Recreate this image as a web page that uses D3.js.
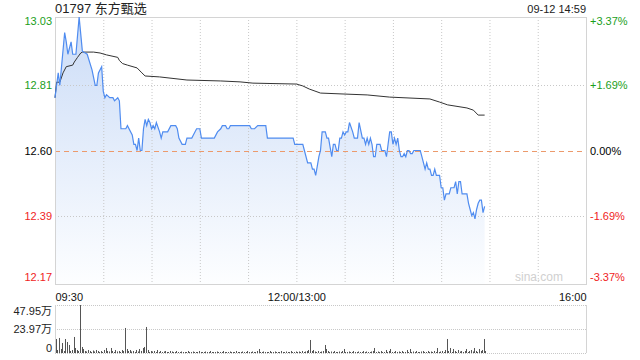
<!DOCTYPE html>
<html>
<head>
<meta charset="utf-8">
<script src="https://cdn.jsdelivr.net/npm/d3@7"></script>
<style>
    body { margin: 0; background: #fff; }
    svg text { font-family: "Liberation Sans", Arial, "Noto Sans CJK SC", sans-serif; }
</style>
</head>
<body>
<div id="chart"></div>
<script>
// Header
const stockTitle = "01797 东方甄选"
const stockTime = "09-12 14:59"

// Axis labels
const priceTicks = [13.03, 12.81, 12.60, 12.39, 12.17]
const pctTicks = ["+3.37%", "+1.69%", "0.00%", "-1.69%", "-3.37%"]
const timeTicks = [0, 150, 330]
const timeLabels = ["09:30", "12:00/13:00", "16:00"]
const volTicks = [47.95, 23.97, 0]
const volLabels = ["47.95万", "23.97万", "0"]
const prevClose = 12.60

// Price line (minute from 09:30, trading minutes only)
const priceMinutes = [0, 2, 3, 6, 7, 8, 10, 11, 13, 15, 17, 20, 23, 25, 26, 27, 29, 30, 31, 32, 34, 36, 37, 39, 40,
    41, 42, 44, 45, 48, 49, 50, 51, 52, 53, 54, 55, 56, 57, 58, 59, 60, 61, 62, 63, 65, 66, 67, 70, 72, 75, 76, 77,
    79, 81, 82, 85, 86, 88, 90, 91, 99, 101, 103, 104, 106, 107, 108, 109, 121, 122, 124, 126, 131, 132, 148, 149,
    154, 155, 157, 159, 160, 161, 162, 163, 164, 165, 166, 167, 168, 169, 170, 172, 173, 174, 175, 176, 177, 178,
    179, 180, 181, 182, 183, 185, 186, 188, 189, 191, 192, 193, 194, 195, 196, 197, 198, 199, 200, 202, 203, 204,
    205, 206, 207, 208, 209, 210, 211, 212, 213, 214, 215, 216, 217, 218, 219, 220, 221, 222, 223, 225, 226, 227,
    228, 229, 230, 231, 232, 233, 234, 235, 236, 237, 239, 240, 241, 242, 243, 245, 246, 248, 249, 250, 251, 252,
    253, 256, 257, 258, 259, 260, 261, 262, 263, 264, 265, 266, 267]
const prices = [12.77, 12.85, 12.81, 12.98, 12.95, 12.91, 12.95, 12.91, 12.91, 13.03, 12.92, 12.91, 12.86, 12.81,
    12.81, 12.85, 12.87, 12.79, 12.77, 12.78, 12.77, 12.77, 12.76, 12.77, 12.76,
    12.67, 12.67, 12.67, 12.68, 12.65, 12.62, 12.62, 12.60, 12.64, 12.60, 12.60, 12.67, 12.70, 12.68, 12.70, 12.69,
    12.67, 12.68, 12.67, 12.69, 12.66, 12.64, 12.66, 12.66, 12.68, 12.68, 12.67, 12.64,
    12.62, 12.62, 12.64, 12.64, 12.65, 12.67, 12.67, 12.64, 12.64, 12.66, 12.67, 12.68, 12.68, 12.67, 12.67, 12.68,
    12.68, 12.67, 12.67, 12.68, 12.68, 12.64, 12.64, 12.62,
    12.62, 12.60, 12.56, 12.56, 12.54, 12.54, 12.52, 12.55, 12.58, 12.60, 12.66, 12.66, 12.66, 12.64, 12.64, 12.58,
    12.62, 12.62, 12.60, 12.60, 12.64, 12.64,
    12.66, 12.65, 12.66, 12.66, 12.69, 12.66, 12.64, 12.64, 12.69, 12.64, 12.64, 12.62, 12.64, 12.62, 12.64, 12.62,
    12.58, 12.58, 12.62, 12.62, 12.60, 12.60,
    12.60, 12.58, 12.62, 12.66, 12.66, 12.62, 12.64, 12.62, 12.64, 12.60, 12.58, 12.58, 12.59, 12.58, 12.60, 12.60,
    12.59, 12.59, 12.60, 12.60, 12.60, 12.60,
    12.58, 12.56, 12.54, 12.56, 12.54, 12.54, 12.52, 12.52, 12.54, 12.52, 12.52, 12.48, 12.48, 12.44, 12.46, 12.46,
    12.48, 12.48, 12.50, 12.46, 12.50, 12.50,
    12.46, 12.46, 12.43, 12.41, 12.39, 12.40, 12.38, 12.41, 12.43, 12.44, 12.44, 12.40, 12.42]

// Average price line
const avgMinutes = [0, 1, 3, 5, 7, 11, 12, 14, 16, 17, 24, 28, 32, 39, 40, 42, 45, 51, 54, 56, 65, 82, 103, 115,
    123, 150, 154, 158, 165, 179, 194, 208, 233, 239, 244, 256, 260, 263, 267]
const avgPrices = [12.77, 12.82, 12.82, 12.85, 12.87, 12.875, 12.885, 12.90, 12.914, 12.917, 12.917, 12.914,
    12.908, 12.90, 12.89, 12.88, 12.875, 12.866, 12.85, 12.84, 12.837, 12.827, 12.824, 12.821, 12.817, 12.814,
    12.808, 12.798, 12.785, 12.782, 12.779, 12.772, 12.766, 12.756, 12.747, 12.737, 12.730, 12.714, 12.714]

// Volume per minute (万 shares)
const volumes = [
    14, 3, 15, 4, 10, 2, 14, 11, 8, 2,
    3, 16, 5, 3, 2, 47.95, 6, 4, 2, 1.5,
    3, 2, 1, 2.5, 1.5, 3, 2, 1, 2, 1,
    3, 5, 2, 1.5, 5, 2, 1, 3, 1.5, 2,
    1, 3, 2, 25, 4, 2, 3, 1.5, 2, 1,
    3, 1.5, 4, 2, 5, 6, 26, 3, 1, 2,
    1.5, 2, 1, 3, 1, 2, 1, 1.5, 2, 1,
    1, 2, 1.5, 1, 1, 2, 1, 1, 1.5, 1,
    1, 1, 2, 1, 1, 1.5, 1, 1, 1, 2,
    1, 1, 1, 1.5, 1, 1, 2, 1, 1, 1,
    1.5, 1, 1, 1, 2, 1, 1, 1, 1.5, 1,
    1, 1, 2, 1, 1, 1, 1.5, 1, 1, 2,
    1, 1, 1.5, 1, 1, 2, 4, 1, 1, 1.5,
    1, 1, 1, 2, 1, 1, 1.5, 1, 1, 1,
    2, 1, 1, 1.5, 1, 1, 2, 1, 1, 1.5,
    1, 1.5, 1, 2, 1, 1.5, 2, 3, 13, 2,
    3, 1.5, 1, 2, 1, 1.5, 2, 8, 4, 2,
    1, 1.5, 1, 2, 1, 1, 1.5, 1, 2, 4,
    1, 1, 1.5, 1, 1, 2, 1, 1, 1.5, 1,
    1, 2, 1, 1.5, 1, 1, 1.5, 2, 5, 1,
    1.5, 1, 2, 1, 1, 3, 1, 2, 4, 1,
    1, 2, 1, 1.5, 1, 2, 1, 1, 3, 1,
    4, 1, 1.5, 1, 2, 1, 1, 1.5, 2, 1,
    1, 2, 1, 1.5, 1, 2, 1, 5, 1, 1.5,
    2, 1, 3, 14, 2, 5, 1, 4, 2, 1,
    3, 1.5, 2, 1, 2, 4, 1, 2, 3, 1.5,
    5, 2, 1, 4, 2, 3, 14, 2]

// Colors
const upColor = "#1a9e1a"
const downColor = "#f02424"
const lineColor = "#4f8cf0"
const gridColor = "#c8c8c8"

function tickColor(i) {
    if (priceTicks[i] > prevClose) return upColor
    if (priceTicks[i] < prevClose) return downColor
    return "#000"
}

// Canvas
const W = 640, H = 360
const plot = { left: 55, right: 586, top: 17, bottom: 284 }
const vol = { top: 305, bottom: 353 }

const svg = d3.select("#chart").append("svg")
    .attr("width", W)
    .attr("height", H)

// Scales
const xScale = d3.scaleLinear().domain([0, 330]).range([plot.left, plot.right])
const yScale = d3.scaleLinear().domain([12.17, 13.03]).range([plot.bottom, plot.top])
const vScale = d3.scaleLinear().domain([0, 47.95]).range([vol.bottom, vol.top])

const priceData = priceMinutes.map((m, i) => ({ m: m, p: prices[i] }))
const avgData = avgMinutes.map((m, i) => ({ m: m, p: avgPrices[i] }))

// Header texts
svg.append("text")
    .attr("x", plot.left)
    .attr("y", 13)
    .attr("font-size", 13)
    .attr("fill", "#222")
    .text(stockTitle)

svg.append("text")
    .attr("x", plot.right)
    .attr("y", 13)
    .attr("text-anchor", "end")
    .attr("font-size", 11)
    .attr("fill", "#222")
    .text(stockTime)

// Gradient for area
const grad = svg.append("defs").append("linearGradient")
    .attr("id", "areaFill")
    .attr("gradientUnits", "userSpaceOnUse")
    .attr("x1", 0).attr("y1", plot.top)
    .attr("x2", 0).attr("y2", plot.bottom)
grad.append("stop").attr("offset", "0%").attr("stop-color", "#cbdcf7")
grad.append("stop").attr("offset", "100%").attr("stop-color", "#fdfeff")

// Area under the price line
svg.append("path")
    .datum(priceData)
    .attr("fill", "url(#areaFill)")
    .attr("d", d3.area()
        .x(d => xScale(d.m))
        .y0(plot.bottom)
        .y1(d => yScale(d.p)))

// Vertical grid lines
svg.append("g")
    .selectAll("line")
    .data(d3.range(30, 330, 30))
    .enter()
    .append("line")
    .attr("x1", d => xScale(d) + 0.5)
    .attr("x2", d => xScale(d) + 0.5)
    .attr("y1", plot.top)
    .attr("y2", plot.bottom)
    .attr("stroke", gridColor)
    .attr("stroke-dasharray", "1,2")

// Horizontal grid lines
svg.append("g")
    .selectAll("line")
    .data(priceTicks.slice(1, 4))
    .enter()
    .append("line")
    .attr("x1", plot.left)
    .attr("x2", plot.right)
    .attr("y1", d => Math.round(yScale(d)) + 0.5)
    .attr("y2", d => Math.round(yScale(d)) + 0.5)
    .attr("stroke", d => d === prevClose ? "#ec9a6c" : gridColor)
    .attr("stroke-dasharray", d => d === prevClose ? "5,4" : "1,2")

// Plot border
svg.append("rect")
    .attr("x", plot.left + 0.5)
    .attr("y", plot.top + 0.5)
    .attr("width", plot.right - plot.left)
    .attr("height", plot.bottom - plot.top)
    .attr("fill", "none")
    .attr("stroke", "#d4d4d4")

// Average line
svg.append("path")
    .datum(avgData)
    .attr("fill", "none")
    .attr("stroke", "#333")
    .attr("stroke-width", 1)
    .attr("d", d3.line().x(d => xScale(d.m)).y(d => yScale(d.p)))

// Price line
svg.append("path")
    .datum(priceData)
    .attr("fill", "none")
    .attr("stroke", lineColor)
    .attr("stroke-width", 1.2)
    .attr("d", d3.line().x(d => xScale(d.m)).y(d => yScale(d.p)))

// Watermark
svg.append("text")
    .attr("x", 563)
    .attr("y", 281)
    .attr("text-anchor", "end")
    .attr("font-size", 12)
    .attr("fill", "#d0d0d0")
    .text("sina.com")

// Left price labels
svg.append("g")
    .selectAll("text")
    .data(priceTicks)
    .enter()
    .append("text")
    .attr("x", 52)
    .attr("y", (d, i) => Math.min(Math.max(yScale(d), plot.top + 4), plot.bottom - 7) + 4)
    .attr("text-anchor", "end")
    .attr("font-size", 11)
    .attr("fill", (d, i) => tickColor(i))
    .text(d => d.toFixed(2))

// Right percent labels
svg.append("g")
    .selectAll("text")
    .data(pctTicks)
    .enter()
    .append("text")
    .attr("x", 590)
    .attr("y", (d, i) => Math.min(Math.max(yScale(priceTicks[i]), plot.top + 4), plot.bottom - 7) + 4)
    .attr("font-size", 11)
    .attr("fill", (d, i) => tickColor(i))
    .text(d => d)

// Time axis
const timeAxis = svg.append("g")
    .attr("transform", `translate(0, ${plot.bottom})`)
    .call(d3.axisBottom(xScale)
        .tickValues(timeTicks)
        .tickSize(0)
        .tickPadding(9)
        .tickFormat((d, i) => timeLabels[i]))
timeAxis.select(".domain").remove()
timeAxis.selectAll("text")
    .attr("font-size", 11)
    .attr("font-family", null)
    .attr("fill", "#111")
    .attr("text-anchor", (d, i) => i === 0 ? "start" : (i === 2 ? "end" : "middle"))

// Volume panel grid
svg.append("g")
    .selectAll("line")
    .data(volTicks)
    .enter()
    .append("line")
    .attr("x1", plot.left)
    .attr("x2", plot.right)
    .attr("y1", d => Math.round(vScale(d)) + 0.5)
    .attr("y2", d => Math.round(vScale(d)) + 0.5)
    .attr("stroke", gridColor)
    .attr("stroke-dasharray", "1,1")

svg.append("line")
    .attr("x1", plot.left + 0.5).attr("x2", plot.left + 0.5)
    .attr("y1", vol.top).attr("y2", vol.bottom)
    .attr("stroke", "#d4d4d4")
svg.append("line")
    .attr("x1", plot.right + 0.5).attr("x2", plot.right + 0.5)
    .attr("y1", vol.top).attr("y2", vol.bottom)
    .attr("stroke", "#d4d4d4")

// Volume bars
svg.append("g")
    .selectAll("line")
    .data(volumes)
    .enter()
    .append("line")
    .attr("x1", (d, i) => Math.round(xScale(i + 0.5)) + 0.5)
    .attr("x2", (d, i) => Math.round(xScale(i + 0.5)) + 0.5)
    .attr("y1", vScale(0))
    .attr("y2", d => vScale(d))
    .attr("stroke", "#555")
    .attr("stroke-width", 1)

// Volume labels
svg.append("g")
    .selectAll("text")
    .data(volLabels)
    .enter()
    .append("text")
    .attr("x", 52)
    .attr("y", (d, i) => Math.min(Math.max(vScale(volTicks[i]), vol.top + 6), vol.bottom - 5) + 4)
    .attr("text-anchor", "end")
    .attr("font-size", 11)
    .attr("fill", "#222")
    .text(d => d)
</script>
</body>
</html>
